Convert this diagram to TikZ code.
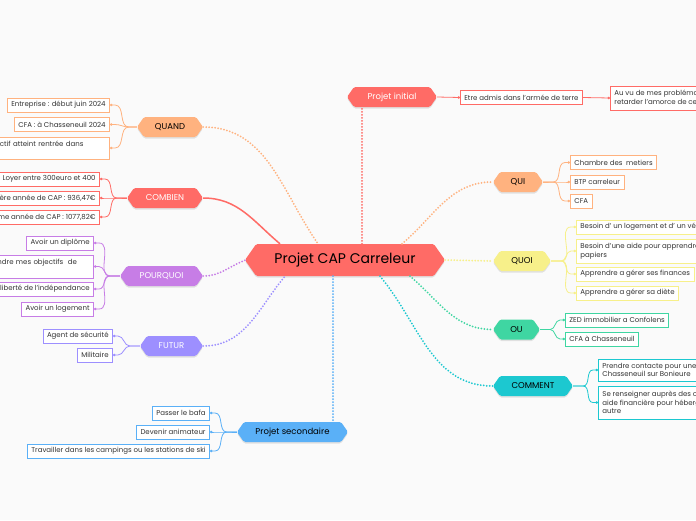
\documentclass[tikz,border=0pt]{standalone}
\usepackage{fontspec}
\setmainfont{Poppins}
\usetikzlibrary{arrows.meta,calc}
\definecolor{cred}{HTML}{FF6B66}
\definecolor{corange}{HTML}{FFB27F}
\definecolor{cpurple}{HTML}{C77DE6}
\definecolor{cviolet}{HTML}{9D8FFF}
\definecolor{cblue}{HTML}{5AB0F7}
\definecolor{cyellow}{HTML}{F7F08A}
\definecolor{cgreen}{HTML}{3FD6A2}
\definecolor{cteal}{HTML}{1CC8D0}
\definecolor{ctext}{HTML}{333333}
\newcommand\hexa[8]{%
  \pgfmathsetmacro\hxL{#2-#4/2}\pgfmathsetmacro\hxR{#2+#4/2}%
  \pgfmathsetmacro\hxT{#3-#5/2}\pgfmathsetmacro\hxB{#3+#5/2}%
  \pgfmathsetmacro\hxP{#5*0.35}%
  \fill[black,opacity=0.10,rounded corners=1.5pt,yshift=-1.5pt] (\hxL,#3) -- ({\hxL+\hxP},\hxT) -- ({\hxR-\hxP},\hxT) -- (\hxR,#3) -- ({\hxR-\hxP},\hxB) -- ({\hxL+\hxP},\hxB) -- cycle;
  \fill[#6,rounded corners=1.5pt] (\hxL,#3) -- ({\hxL+\hxP},\hxT) -- ({\hxR-\hxP},\hxT) -- (\hxR,#3) -- ({\hxR-\hxP},\hxB) -- ({\hxL+\hxP},\hxB) -- cycle;
  \node[minimum width=#4, minimum height=#5, inner sep=0, #7] (#1) at (#2,#3) {#8};
}
\tikzset{
  leaf/.style={draw=#1, fill=white, line width=0.8pt, font=\fontsize{7}{8.5}\selectfont, text=ctext, inner xsep=4pt, inner ysep=2pt, minimum height=14pt, align=left},
  lk/.style={draw=#1, line width=0.8pt, -{Circle[length=2.4pt]}},
  ml/.style={draw=#1, line width=2pt, dash pattern=on 0pt off 3pt, line cap=round},
  hs/.style={font=\fontsize{8.5}{10}\selectfont},
}
\begin{document}
\begin{tikzpicture}[x=1pt,y=-1pt]
\fill[white!98!black] (0,0) rectangle (696,520);
\useasboundingbox (0,0) rectangle (696,520);

% hexagons
\hexa{C}{345}{260}{200}{32}{cred}{font=\fontsize{14}{16}\selectfont, text=black}{Projet CAP Carreleur}
\hexa{PI}{392}{97}{90}{20}{cred}{hs, text=white}{Projet initial}
\hexa{QUAND}{170}{127}{66}{20}{corange}{hs, text=black}{QUAND}
\hexa{COMBIEN}{165}{198}{76}{20}{cred}{hs, text=white}{COMBIEN}
\hexa{POURQUOI}{161.5}{276}{83}{20}{cpurple}{hs, text=white}{POURQUOI}
\hexa{FUTUR}{171.5}{346}{63}{20}{cviolet}{hs, text=white}{FUTUR}
\hexa{PS}{292.5}{432}{111}{20}{cblue}{hs, text=black}{Projet secondaire}
\hexa{QUI}{518}{182}{50}{20}{corange}{hs, text=black}{QUI}
\hexa{QUOI}{522}{261}{58}{20}{cyellow}{hs, text=black}{QUOI}
\hexa{OU}{516.5}{329.5}{47}{20}{cgreen}{hs, text=black}{OU}
\hexa{COMMENT}{533}{386}{80}{20}{cteal}{hs, text=black}{COMMENT}

\draw[ml=cred] ([xshift=17pt]C.north) -- ([xshift=-30pt]PI.south);
\draw[ml=corange] (QUAND.east) to[out=0,in=125] ([xshift=-27pt]C.north);
\draw[draw=cred, line width=1.5pt] (COMBIEN.east) to[out=0,in=140] ([xshift=-65pt]C.north);
\draw[ml=cpurple] (POURQUOI.east) to[out=0,in=200] ([xshift=1pt]C.west);
\draw[ml=cviolet] (FUTUR.east) to[out=0,in=230] ([xshift=-60pt]C.south);
\draw[ml=cblue] ([xshift=-12pt]C.south) -- ([xshift=40.5pt]PS.north);
\draw[ml=corange] ([xshift=57pt]C.north) to[out=40,in=180] (QUI.west);
\draw[ml=cyellow] (C.east) -- (QUOI.west);
\draw[ml=cgreen] ([xshift=65pt]C.south) to[out=-40,in=180] (OU.west);
\draw[ml=cteal] ([xshift=35pt]C.south) to[out=-50,in=180] (COMMENT.west);

% leaves left
\node[leaf=corange, anchor=east] (q1) at (110,105) {Entreprise : début juin 2024};
\node[leaf=corange, anchor=east] (q2) at (110,124.5) {CFA : à Chasseneuil 2024};
\node[leaf=corange, anchor=east, text width=122pt, minimum height=22pt] (q3) at (110,148) {Objectif atteint rentrée dans\\ \mbox{}};
\node[leaf=cred, anchor=east] (c1) at (100,179) {Loyer entre 300euro et 400};
\node[leaf=cred, anchor=east] (c2) at (100,198) {Première année de CAP : 936,47€};
\node[leaf=cred, anchor=east] (c3) at (100,217) {Deuxième année de CAP : 1077,82€};
\node[leaf=cpurple, anchor=east] (p1) at (94,243) {Avoir un diplôme};
\node[leaf=cpurple, anchor=east, text width=108pt, minimum height=23pt] (p2) at (94,266.5) {Atteindre mes objectifs~~de\\ \mbox{}};
\node[leaf=cpurple, anchor=east] (p3) at (94,289) {La liberté de l'indépendance};
\node[leaf=cpurple, anchor=east] (p4) at (94,309) {Avoir un logement};
\node[leaf=cviolet, anchor=east] (f1) at (113,336) {Agent de sécurité};
\node[leaf=cviolet, anchor=east] (f2) at (113,355) {Militaire};
\node[leaf=cblue, anchor=east] (s1) at (210,413) {Passer le bafa};
\node[leaf=cblue, anchor=east] (s2) at (210,432) {Devenir animateur};
\node[leaf=cblue, anchor=east] (s3) at (210,451) {Travailler dans les campings ou les stations de ski};

% leaves right
\node[leaf=cred, anchor=west] (e1) at (460,97.5) {Etre admis dans l'armée de terre};
\node[leaf=cred, anchor=west, minimum height=24pt] (e2) at (610,98) {Au vu de mes problématiques de santé, je dois\\retarder l'amorce de ce projet};
\node[leaf=corange, anchor=west] (u1) at (570,162.5) {Chambre des~~metiers};
\node[leaf=corange, anchor=west] (u2) at (570,182) {BTP carreleur};
\node[leaf=corange, anchor=west] (u3) at (570,201) {CFA};
\node[leaf=cyellow, anchor=west] (o1) at (576,227) {Besoin d' un logement et d' un véhicule};
\node[leaf=cyellow, anchor=west, minimum height=24pt] (o2) at (576,251) {Besoin d'une aide pour apprendre à remplir des\\papiers};
\node[leaf=cyellow, anchor=west] (o3) at (576,274) {Apprendre a gérer ses finances};
\node[leaf=cyellow, anchor=west] (o4) at (576,293) {Apprendre a gérer sa diète};
\node[leaf=cgreen, anchor=west] (w1) at (565,320) {ZED immobilier a Confolens};
\node[leaf=cgreen, anchor=west] (w2) at (565,339) {CFA à Chasseneuil};
\node[leaf=cteal, anchor=west, minimum height=22pt] (m1) at (598,370) {Prendre contacte pour une chambre à\\Chasseneuil sur Bonieure};
\node[leaf=cteal, anchor=west, minimum height=33pt] (m2) at (598,402.5) {Se renseigner auprès des organismes d'\\aide financière pour hébergement ou\\autre};

% leaf connectors
\foreach \c in {q1,q2,q3} \draw[lk=corange] (QUAND.west) -- ++(-8,0) to[out=180,in=0] ([xshift=5pt]\c.east) -- (\c.east);
\foreach \c in {c1,c2,c3} \draw[lk=cred] (COMBIEN.west) -- ++(-10,0) to[out=180,in=0] ([xshift=5pt]\c.east) -- (\c.east);
\foreach \c in {p1,p2,p3,p4} \draw[lk=cpurple] (POURQUOI.west) -- ++(-10,0) to[out=180,in=0] ([xshift=5pt]\c.east) -- (\c.east);
\foreach \c in {f1,f2} \draw[lk=cviolet] (FUTUR.west) -- ++(-10,0) to[out=180,in=0] ([xshift=5pt]\c.east) -- (\c.east);
\foreach \c in {s1,s2,s3} \draw[lk=cblue] (PS.west) -- ++(-10,0) to[out=180,in=0] ([xshift=5pt]\c.east) -- (\c.east);
\draw[lk=cred] (PI.east) -- (e1.west);
\draw[lk=cred] (e1.east) -- (e2.west);
\foreach \c in {u1,u2,u3} \draw[lk=corange] (QUI.east) -- ++(10,0) to[out=0,in=180] ([xshift=-5pt]\c.west) -- (\c.west);
\foreach \c in {o1,o2,o3,o4} \draw[lk=cyellow] (QUOI.east) -- ++(10,0) to[out=0,in=180] ([xshift=-5pt]\c.west) -- (\c.west);
\foreach \c in {w1,w2} \draw[lk=cgreen] (OU.east) -- ++(10,0) to[out=0,in=180] ([xshift=-5pt]\c.west) -- (\c.west);
\foreach \c in {m1,m2} \draw[lk=cteal] (COMMENT.east) -- ++(10,0) to[out=0,in=180] ([xshift=-5pt]\c.west) -- (\c.west);
\end{tikzpicture}
\end{document}
